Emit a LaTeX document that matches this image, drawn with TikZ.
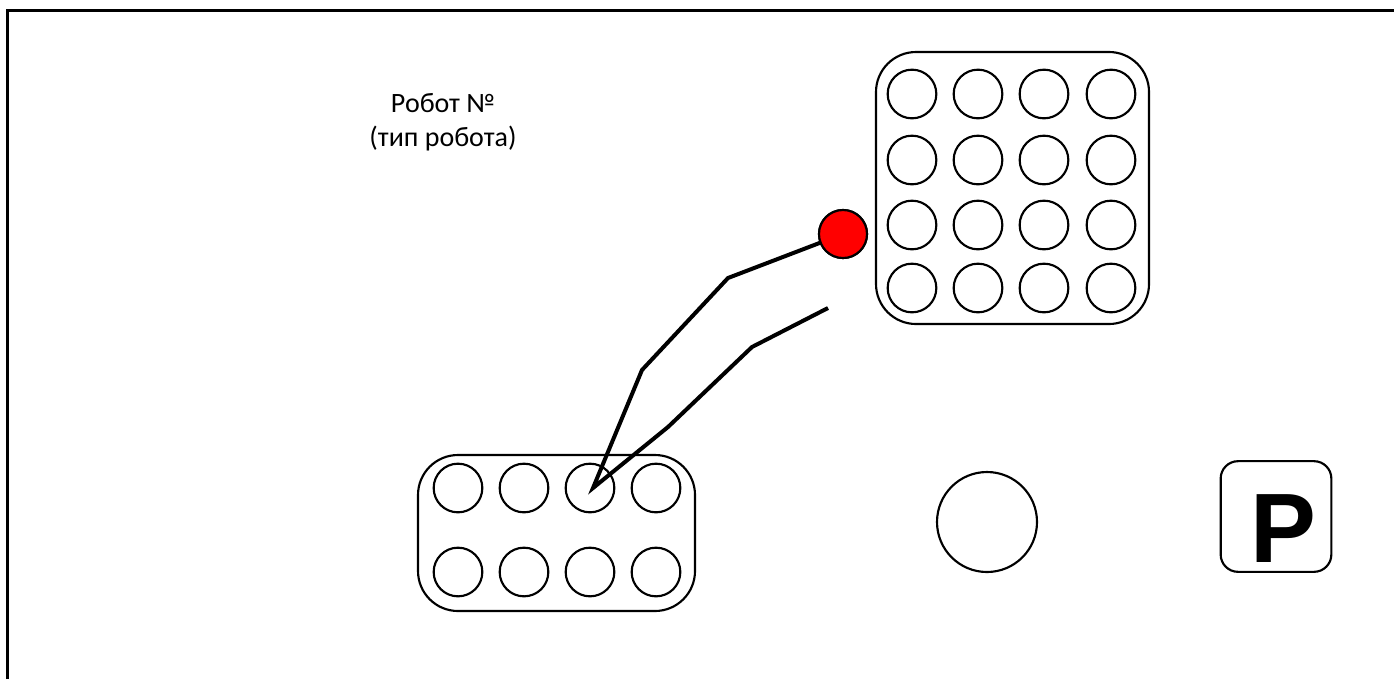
\documentclass[tikz,border=0pt]{standalone}
\usepackage{fontspec}
\setmainfont{Carlito}
\newfontfamily\pfont{Liberation Sans}
\begin{document}
\begin{tikzpicture}[x=0.75pt,y=-0.75pt,
  cell/.style={circle,draw=black,line width=1.6pt,inner sep=0pt,minimum size=36.5pt},
  tray/.style={draw=black,line width=1.6pt,rounded corners=30pt},
  tweez/.style={draw=black,line width=3pt,line join=miter},
  lbltext/.style={anchor=base,inner sep=0pt},
  frameline/.style={draw=black,line width=2.4pt}]
\useasboundingbox (0,0) rectangle (1394,679);
\coordinate (fc) at (7.5,10.8);
\coordinate (fr) at (1394,10.8);
\coordinate (fb) at (7.5,679);
\draw[frameline] (fb) -- (fc) -- (fr);
% label
\node[lbltext] (lbl1) at (443,112) {\fontsize{21}{24}\selectfont Робот №};
\node[lbltext] (lbl2) at (443,146) {\fontsize{21}{24}\selectfont (тип робота)};
% top tray 4x4
\draw[tray] (876,52) rectangle (1149,324);
\foreach \i/\x in {1/912,2/978,3/1044,4/1111}{
  \foreach \j/\y in {1/94,2/160,3/225,4/288}{
    \node[cell] (t\j\i) at (\x,\y) {};
  }}
% bottom tray 2x4
\draw[tray] (418,455) rectangle (695,611);
\foreach \i/\x in {1/458,2/524,3/590,4/656}{
  \foreach \j/\y in {1/488,2/572}{
    \node[cell] (b\j\i) at (\x,\y) {};
  }}
% big circle
\node[circle,draw=black,line width=1.6pt,minimum size=75pt,inner sep=0pt] (big) at (987,522) {};
% P button
\node[draw=black,line width=1.6pt,rounded corners=13pt,minimum width=83pt,minimum height=83pt,inner sep=0pt] (pbtn) at (1276,516.5) {};
\node[font=\pfont\bfseries\fontsize{74}{74}\selectfont,anchor=base,inner sep=0pt] (pl) at (1283,562) {P};
% tweezers
\node[circle,fill=red,draw=black,line width=1.6pt,minimum size=36pt,inner sep=0pt] (red) at (843,234) {};
\coordinate (tip) at (593,488);
\coordinate (a1) at (728,278);
\coordinate (a2) at (642,370);
\coordinate (c1) at (668,427);
\coordinate (c2) at (752,347);
\coordinate (c3) at (828,308);
\draw[tweez] (red.center) -- (a1) -- (a2) -- (tip) -- (c1) -- (c2) -- (c3);
\node[circle,fill=red,draw=black,line width=1.6pt,minimum size=36pt,inner sep=0pt] at (red) {};
\end{tikzpicture}
\end{document}
